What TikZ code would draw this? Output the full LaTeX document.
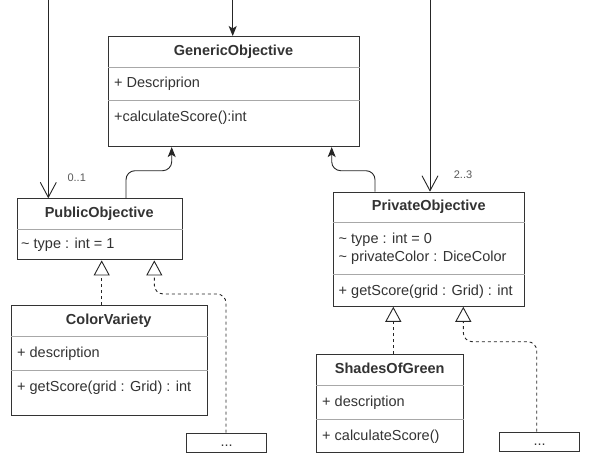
\documentclass[tikz,border=0pt]{standalone}
\usepackage{fontspec}
\setmainfont{Liberation Sans}
\usetikzlibrary{arrows.meta}
\definecolor{ink}{HTML}{333333}
\definecolor{sep}{HTML}{A8A8A8}
\definecolor{wire}{HTML}{262626}
\tikzset{
 cls/.style={draw=ink, line width=1.1pt, fill=white, anchor=north west, inner sep=0pt},
 ttl/.style={font=\fontsize{14.5}{16}\selectfont\bfseries, text=ink, inner sep=0pt, text height=10.5pt, text depth=3pt},
 txt/.style={font=\fontsize{14.5}{16}\selectfont, text=ink, inner sep=0pt, anchor=west, text height=10.5pt, text depth=3pt},
 divider/.style={draw=sep, line width=0.8pt},
 assoc/.style={draw=wire, line width=0.9pt, -{Straight Barb[length=15pt,width=16pt,line width=0.9pt]}},
 headarrow/.style={draw=wire, line width=0.9pt, -{Stealth[length=10pt,width=8pt,inset=2.5pt]}},
 gen/.style={draw=wire, line width=0.9pt, rounded corners=9pt, -{Stealth[length=10pt,width=8pt,inset=2.5pt]}},
 real/.style={draw=wire, line width=0.9pt, dash pattern=on 3pt off 3pt, rounded corners=9pt, -{Triangle[open,length=15pt,width=16pt,line width=0.9pt]}},
 mult/.style={font=\fontsize{11}{12}\selectfont, text=black!65, inner sep=0pt},
}
\begin{document}
\begin{tikzpicture}[x=1pt,y=-1pt]
\useasboundingbox[fill=white] (0,0) rectangle (594,471);

% GenericObjective
\node[cls, minimum width=251pt, minimum height=110pt] (GO) at (108,36) {};
\draw[divider] (GO.west |- 0,67.3) -- (GO.east |- 0,67.3);
\draw[divider] (GO.west |- 0,100) -- (GO.east |- 0,100);
\node[ttl] (GOt) at (233.5,51.6) {GenericObjective};
\node[txt] (GOa) at (114,83.7) {+ Descriprion};
\node[txt] (GOm) at (114,117.5) {+calculateScore():int};

% PublicObjective
\node[cls, minimum width=165pt, minimum height=61pt] (PO) at (16.7,198.3) {};
\draw[divider] (PO.west |- 0,229.3) -- (PO.east |- 0,229.3);
\node[ttl] (POt) at (99.2,213.5) {PublicObjective};
\node[txt] (POa) at (21,245) {\textasciitilde{} type : int = 1};

% PrivateObjective
\node[cls, minimum width=191pt, minimum height=114pt] (PrO) at (333.3,191.7) {};
\draw[divider] (PrO.west |- 0,222.7) -- (PrO.east |- 0,222.7);
\draw[divider] (PrO.west |- 0,274.3) -- (PrO.east |- 0,274.3);
\node[ttl] (PrOt) at (428.8,206.8) {PrivateObjective};
\node[txt] (PrOa) at (338.5,240) {\textasciitilde{} type : int = 0};
\node[txt] (PrOb) at (338.5,257.3) {\textasciitilde{} privateColor : DiceColor};
\node[txt] (PrOm) at (338.5,291.5) {+ getScore(grid : Grid) : int};

% ColorVariety
\node[cls, minimum width=196pt, minimum height=110pt] (CV) at (10.7,305) {};
\draw[divider] (CV.west |- 0,336.7) -- (CV.east |- 0,336.7);
\draw[divider] (CV.west |- 0,370.7) -- (CV.east |- 0,370.7);
\node[ttl] (CVt) at (108.7,320.5) {ColorVariety};
\node[txt] (CVa) at (17,354) {+ description};
\node[txt] (CVm) at (17,387.5) {+ getScore(grid : Grid) : int};

% ShadesOfGreen
\node[cls, minimum width=147.3pt, minimum height=98.3pt] (SG) at (316,354) {};
\draw[divider] (SG.west |- 0,385.7) -- (SG.east |- 0,385.7);
\draw[divider] (SG.west |- 0,419.3) -- (SG.east |- 0,419.3);
\node[ttl] (SGt) at (389.7,369.5) {ShadesOfGreen};
\node[txt] (SGa) at (322,402.7) {+ description};
\node[txt] (SGm) at (322,436.5) {+ calculateScore()};

% placeholder boxes
\node[cls, minimum width=80pt, minimum height=19pt] (D1) at (186,432.7) {};
\node[ttl, font=\fontsize{14.5}{16}\selectfont] (D1t) at (D1.center) {...};
\node[cls, minimum width=80pt, minimum height=19pt] (D2) at (499,431.7) {};
\node[ttl, font=\fontsize{14.5}{16}\selectfont] (D2t) at (D2.center) {...};

% incoming associations
\coordinate (tl) at (48.3,0);
\coordinate (tm) at (232.7,0);
\coordinate (tr) at (430,0);
\draw[assoc] (tl) -- (tl |- PO.north);
\draw[headarrow] (tm) -- (tm |- GO.north);
\draw[assoc] (tr) -- (tr |- PrO.north);
\node[mult] (m1) at (76.7,177.7) {0..1};
\node[mult] (m2) at (463,175) {2..3};

% generalizations
\draw[gen] (126,0 |- PO.north) -- (126,170.7) -- (171.7,170.7) -- (171.7,0 |- GO.south);
\draw[gen] (375,0 |- PrO.north) -- (375,170.7) -- (331.7,170.7) -- (331.7,0 |- GO.south);

% realizations
\draw[real] (101.7,0 |- CV.north) -- (101.7,0 |- PO.south);
\draw[real] (226,0 |- D1.north) -- (226,294) -- (154.3,294) -- (154.3,0 |- PO.south);
\draw[real] (393.3,0 |- SG.north) -- (393.3,0 |- PrO.south);
\draw[real] (536.7,0 |- D2.north) -- (536.7,341.7) -- (463.3,341.7) -- (463.3,0 |- PrO.south);
\end{tikzpicture}
\end{document}
